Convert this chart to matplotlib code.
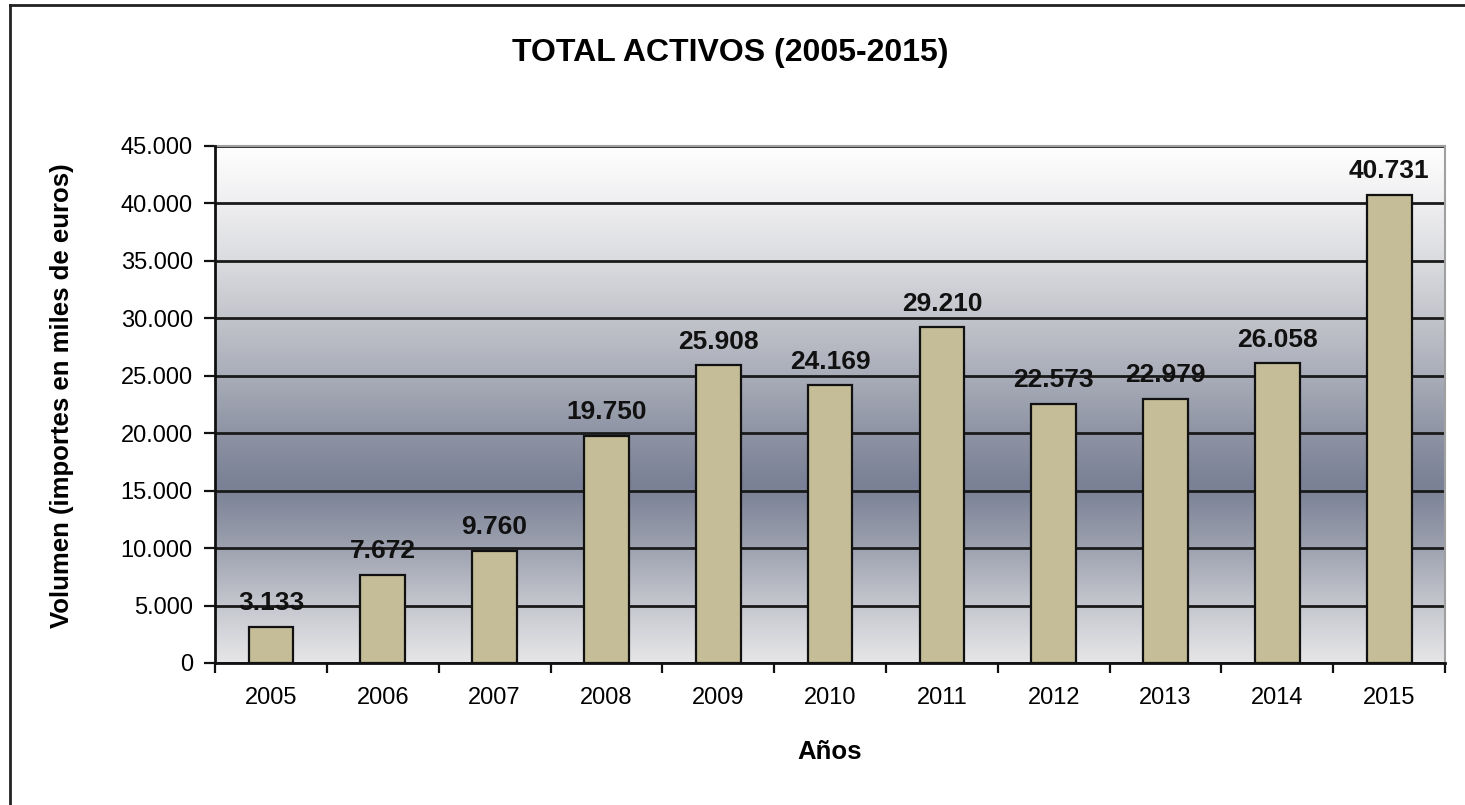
import numpy as np
import matplotlib.pyplot as plt
from matplotlib.colors import LinearSegmentedColormap
from matplotlib.lines import Line2D

plt.rcParams['font.family'] = ['Liberation Sans', 'DejaVu Sans']

# total activos por año (miles de euros)
years = ['2005', '2006', '2007', '2008', '2009', '2010',
         '2011', '2012', '2013', '2014', '2015']
activos = [3133, 7672, 9760, 19750, 25908, 24169,
           29210, 22573, 22979, 26058, 40731]
y_ticks = [0, 5000, 10000, 15000, 20000, 25000, 30000, 35000, 40000, 45000]


def miles(v):
    return f"{v:,.0f}".replace(',', '.')


fig = plt.figure(figsize=(14.65, 8.05), dpi=100)
ax = fig.add_axes([0.1468, 0.1764, 0.8396, 0.6425])

# fondo degradado del area de trazado (claro - oscuro - blanco)
stops = [(0.00, '#e6e6e8'), (0.12, '#c2c4cc'), (0.24, '#979cab'),
         (0.34, '#7a8095'), (0.44, '#8d93a3'), (0.55, '#a8acb8'),
         (0.66, '#c1c3ca'), (0.77, '#d9dade'), (0.88, '#ededef'),
         (1.00, '#ffffff')]
cmap = LinearSegmentedColormap.from_list('fondo', stops)
grad = np.linspace(0, 1, 256).reshape(-1, 1)
ax.imshow(grad, cmap=cmap, origin='lower', aspect='auto',
          extent=[-0.5, 10.5, 0, 45000], zorder=0)

x = np.arange(len(years))
bars = ax.bar(x, activos, width=0.40, color='#c4bd97',
              edgecolor='#111111', linewidth=1.6, zorder=2)

for xi, v in zip(x, activos):
    ax.annotate(miles(v), (xi, v), xytext=(0, 12), textcoords='offset points',
                ha='center', va='baseline', fontsize=19, fontweight='bold',
                color='#111111', zorder=3)

ax.set_xlim(-0.5, 10.5)
ax.set_ylim(0, 45000)
ax.set_yticks(y_ticks)
ax.set_yticklabels([miles(t) for t in y_ticks], fontsize=17)
ax.yaxis.grid(True, color='#1a1a1a', linewidth=2.0)
ax.set_axisbelow(True)
for gl in ax.get_ygridlines():
    gl.set_zorder(1)

ax.set_xticks(x)
ax.set_xticklabels(years, fontsize=17)
ax.tick_params(axis='x', which='major', length=0, pad=17)
ax.set_xticks(np.arange(-0.5, 11, 1), minor=True)
ax.tick_params(axis='x', which='minor', length=7, width=1.6, color='#111111')
ax.tick_params(axis='y', length=8, width=1.6, color='#111111', pad=8)

for side in ('top', 'right'):
    ax.spines[side].set_color('#a0a0a0')
    ax.spines[side].set_linewidth(1.5)
for side in ('left', 'bottom'):
    ax.spines[side].set_color('#111111')
    ax.spines[side].set_linewidth(2.0)
    ax.spines[side].set_zorder(4)

fig.text(0.4983, 1 - 53 / 805, 'TOTAL ACTIVOS (2005-2015)', ha='center',
         va='center', fontsize=23, fontweight='bold')
fig.text(62 / 1465, 1 - 396 / 805, 'Volumen (importes en miles de euros)',
         rotation=90, ha='center', va='center', fontsize=18.5,
         fontweight='bold')
fig.text(830 / 1465, 1 - 752 / 805, 'Años', ha='center', va='center',
         fontsize=18.5, fontweight='bold')

# marco exterior del grafico (solo borde superior e izquierdo visibles)
fig.add_artist(Line2D([10 / 1465, 1.0], [1 - 5 / 805, 1 - 5 / 805],
                      transform=fig.transFigure, color='#222222', linewidth=2))
fig.add_artist(Line2D([10 / 1465, 10 / 1465], [0.0, 1 - 5 / 805],
                      transform=fig.transFigure, color='#222222', linewidth=2))

fig.savefig('out.png', dpi=100)
